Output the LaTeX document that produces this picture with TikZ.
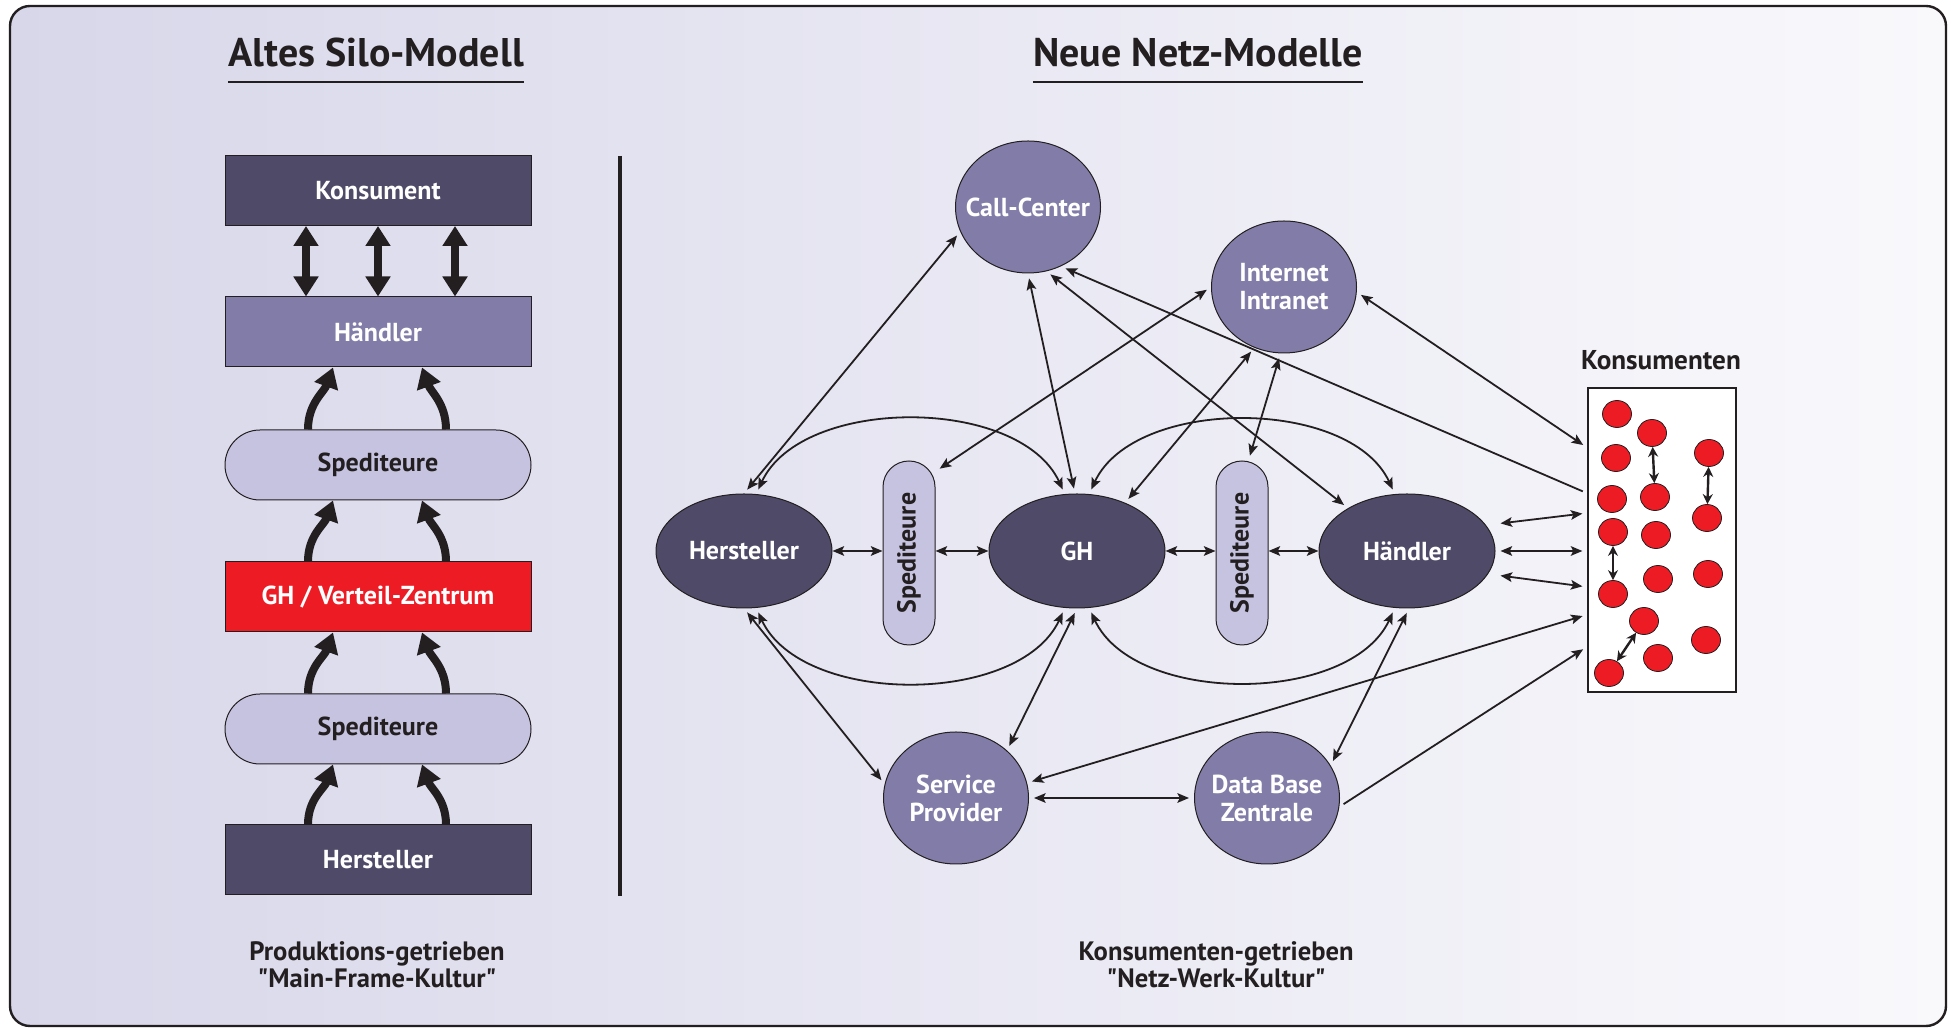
\documentclass[tikz,border=0pt]{standalone}
\usepackage{fontspec}
\setmainfont{PT Sans}
\usepackage{graphicx}
\usetikzlibrary{shapes,arrows.meta}
\definecolor{ink}{HTML}{231F20}
\definecolor{dunkel}{HTML}{4F4A68}
\definecolor{mittel}{HTML}{827DA8}
\definecolor{hell}{HTML}{C6C3E1}
\definecolor{rot}{HTML}{ED1C24}
\definecolor{bgl}{HTML}{D8D7EA}
\definecolor{bgr}{HTML}{F9F9FC}

\begin{document}
\begin{tikzpicture}[x=0.5pt,y=0.5pt,
  every node/.style={font=\fontsize{13}{14}\selectfont\bfseries},
  >={Stealth[length=5.8pt,width=4.8pt,inset=1.2pt]},
  silo/.style={draw=ink,line width=0.5pt,minimum width=153pt,minimum height=35pt,inner sep=0pt,text=white},
  pill/.style={silo,fill=hell,text=ink,rounded corners=17.5pt},
  knot/.style={ellipse,draw=ink,line width=0.5pt,fill=dunkel,text=white,minimum width=88pt,minimum height=57pt,inner sep=0pt},
  ring/.style={knot,fill=mittel,minimum width=72.5pt,minimum height=66pt,align=center,inner xsep=-9pt},
  vpill/.style={draw=ink,line width=0.5pt,fill=hell,text=ink,rounded corners=13pt,minimum width=26pt,minimum height=92pt,inner sep=0pt},
  kdot/.style={ellipse,draw=ink,line width=0.4pt,fill=rot,minimum width=14.5pt,minimum height=13.5pt,inner sep=0pt},
  link/.style={<->,draw=ink,line width=0.9pt,shorten <=2.5pt,shorten >=2.5pt},
  hlink/.style={<->,draw=ink,line width=0.9pt},
  dlink/.style={draw=ink,line width=1.2pt,{Stealth[length=5pt,width=5pt]}-{Stealth[length=5pt,width=5pt]}},
  fat/.style={draw=ink,line width=4pt,-{Triangle[length=10pt,width=12pt]}},
  fatboth/.style={fat,{Triangle[length=10pt,width=12pt]}-{Triangle[length=10pt,width=12pt]}},
  caption/.style={align=center,text=ink,inner sep=0pt,anchor=north,font=\fontsize{13.3}{13.5}\selectfont\bfseries}]

  % page and frame
  \fill[white] (0,0) rectangle (1951,1028);
  \useasboundingbox (0,0) rectangle (1951,1028);
  \draw[ink,line width=1.2pt,rounded corners=10pt,left color=bgl,right color=bgr] (10,2) rectangle (1946,1022);

  % titles
  \node[font=\fontsize{20}{22}\selectfont\bfseries,text=ink,inner sep=0pt,anchor=base] (t1) at (376,961) {Altes Silo-Modell};
  \node[font=\fontsize{20}{22}\selectfont\bfseries,text=ink,inner sep=0pt,anchor=base] (t2) at (1198,961) {Neue Netz-Modelle};
  \draw[ink,line width=1pt] ([yshift=-7pt]t1.south west) -- ([yshift=-7pt]t1.south east);
  \draw[ink,line width=1pt] ([yshift=-7pt]t2.south west) -- ([yshift=-7pt]t2.south east);

  % silo model
  \node[silo,fill=dunkel] (lk) at (378,837.5) {Konsument};
  \node[silo,fill=mittel] (lh) at (378,696) {Händler};
  \node[pill] (ls1) at (378,563) {Spediteure};
  \node[silo,fill=rot] (lgh) at (378,431) {GH / Verteil-Zentrum};
  \node[pill] (ls2) at (378,299) {Spediteure};
  \node[silo,fill=dunkel] (lhst) at (378,168) {Hersteller};

  \foreach \dx in {-36,0,38.5}
    \draw[fatboth] ([xshift=\dx pt]lk.south) -- ([xshift=\dx pt]lh.north);
  \foreach \lo/\up in {ls1/lh,lgh/ls1,ls2/lgh,lhst/ls2} {
    \draw[fat] ([xshift=-35pt]\lo.north) to[out=90,in=250] ([xshift=-22.5pt]\up.south);
    \draw[fat] ([xshift=34pt]\lo.north) to[out=90,in=290] ([xshift=22pt]\up.south);
  }

  \node[caption] (c1) at (377,87) {Produktions-getrieben\\\textquotedbl Main-Frame-Kultur\textquotedbl};

  % divider
  \draw[ink,line width=1.8pt] (620,872) -- (620,132);

  % net model
  \node[ring] (cc) at (1028,821) {Call-Center};
  \node[ring] (inet) at (1284,741) {Internet\\Intranet};
  \node[knot] (hst) at (744,477) {Hersteller};
  \node[vpill] (sp1) at (909,475) {\rotatebox{90}{Spediteure}};
  \node[knot] (gh) at (1077,477) {GH};
  \node[vpill] (sp2) at (1242,475) {\rotatebox{90}{Spediteure}};
  \node[knot] (hdl) at (1407,477) {Händler};
  \node[ring] (svc) at (956,230) {Service\\Provider};
  \node[ring] (db) at (1267,230) {Data Base\\Zentrale};

  \node[text=ink,anchor=base,font=\fontsize{13.6}{15}\selectfont\bfseries] (klbl) at (1661,658) {Konsumenten};
  \node[draw=ink,line width=0.6pt,fill=white,minimum width=74pt,minimum height=152pt,inner sep=0pt] (kbox) at (1662,488) {};
  \foreach \n/\px/\py in {1/1617/614,2/1652/595,3/1709/575,4/1616/570,5/1612/529,6/1655/531,
      7/1707/510,8/1613/496,9/1656/493,10/1658/449,11/1708/454,12/1613/434,
      13/1644/407,14/1706/388,15/1658/370,16/1609/355}
    \node[kdot] (d\n) at (\px,\py) {};
  \draw[dlink] (d2) -- (d6);
  \draw[dlink] (d3) -- (d7);
  \draw[dlink] (d8) -- (d12);
  \draw[dlink] (d13) -- (d16);

  % chain
  \draw[hlink] (hst.east) -- (hst.east -| sp1.west);
  \draw[hlink] (sp1.east |- gh.west) -- (gh.west);
  \draw[hlink] (gh.east) -- (gh.east -| sp2.west);
  \draw[hlink] (sp2.east |- hdl.west) -- (hdl.west);

  % arcs
  \draw[link] (hst.78) to[out=65,in=115,looseness=0.9] (gh.102);
  \draw[link] (hst.282) to[out=-65,in=-115,looseness=0.9] (gh.258);
  \draw[link] (gh.78) to[out=65,in=115,looseness=0.9] (hdl.102);
  \draw[link] (gh.282) to[out=-65,in=-115,looseness=0.9] (hdl.258);

  % spokes
  \draw[link] (hst.90) -- (cc.200);
  \draw[link] (hst.270) -- (svc.169);
  \draw[link] (gh.270) -- (svc.43);
  \draw[link] (cc.270) -- (gh.92);
  \draw[link] (cc.286) -- (hdl.144);
  \draw[link,<-] (cc.299) -- (kbox.148);
  \draw[link] (inet.180) -- (sp1.72);
  \draw[link] (inet.244) -- (gh.45);
  \draw[link] (inet.267) -- (sp2.86);
  \draw[link] (inet.356) -- (kbox.129);
  \draw[link] ([yshift=13.5pt]hdl.east) -- ([yshift=13.5pt]kbox.west);
  \draw[link] (hdl.east) -- (hdl.east -| kbox.west);
  \draw[link] ([yshift=-12pt]hdl.east) -- ([yshift=-23.5pt]kbox.west);
  \draw[link] (svc.12) -- (kbox.225);
  \draw[link,->] (db.353) -- (kbox.235);
  \draw[link] (svc.east) -- (db.west);
  \draw[link] (hdl.272) -- (db.27);

  \node[caption] (c2) at (1216,87) {Konsumenten-getrieben\\\textquotedbl Netz-Werk-Kultur\textquotedbl};
\end{tikzpicture}
\end{document}
